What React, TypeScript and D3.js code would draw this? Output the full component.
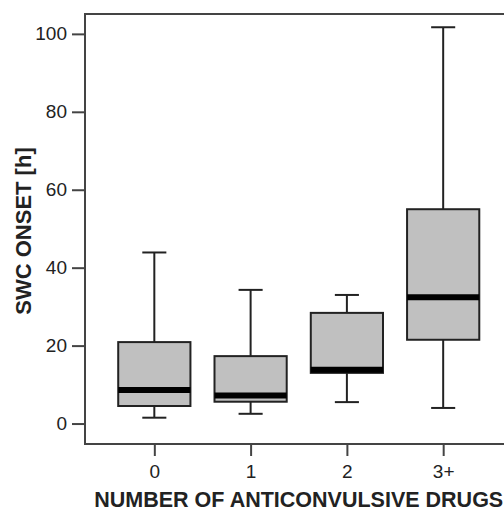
import { useEffect, useRef } from "react";
import * as d3 from "d3";

const categories = ["0", "1", "2", "3+"];
const whiskerLow = [1.5, 2.5, 5.5, 4.0];
const q1 = [4.5, 5.6, 13.0, 21.5];
const median = [8.6, 7.2, 13.8, 32.4];
const q3 = [20.9, 17.3, 28.4, 55.0];
const whiskerHigh = [43.9, 34.3, 33.0, 101.7];
const yTicks = [0, 20, 40, 60, 80, 100];

const WIDTH = 504;
const HEIGHT = 508;

const App = () => {
  const ref = useRef<SVGSVGElement>(null);

  useEffect(() => {
    if (!ref.current) return;
    const svg = d3.select(ref.current);
    svg.selectAll("*").remove();

    // plot frame runs past the right edge of the picture
    const left = 85;
    const right = 512.5;
    const top = 14;
    const bottom = 444;

    const x = d3.scalePoint().domain(categories).range([left, right]).padding(0.72);
    const y = d3.scaleLinear().domain([-5.25, 105.1]).range([bottom, top]);
    const step = x.step();
    const boxW = step * 0.75;
    const capW = step * 0.25;

    const font = "'Liberation Sans', Arial, sans-serif";
    const ink = "#222";
    const axisColor = "#444";

    // frame
    svg
      .append("path")
      .attr("fill", "none")
      .attr("stroke", axisColor)
      .attr("stroke-width", 2)
      .attr("d", `M${right + 10},${top}H${left}V${bottom}H${right + 10}`);

    // y axis
    svg
      .append("g")
      .attr("transform", `translate(${left},0)`)
      .call(d3.axisLeft(y).tickValues(yTicks).tickSize(13).tickPadding(5))
      .call((g) => g.select(".domain").remove())
      .call((g) => g.selectAll(".tick line").attr("stroke", axisColor).attr("stroke-width", 2))
      .call((g) =>
        g.selectAll(".tick text").attr("fill", ink).attr("font-size", 19).attr("font-family", font)
      );

    // x axis
    svg
      .append("g")
      .attr("transform", `translate(0,${bottom})`)
      .call(d3.axisBottom(x).tickSize(12).tickPadding(9))
      .call((g) => g.select(".domain").remove())
      .call((g) => g.selectAll(".tick line").attr("stroke", axisColor).attr("stroke-width", 2))
      .call((g) =>
        g.selectAll(".tick text").attr("fill", ink).attr("font-size", 19).attr("font-family", font)
      );

    // boxes
    const boxes = svg
      .append("g")
      .selectAll("g")
      .data(categories)
      .join("g")
      .attr("stroke", ink)
      .attr("stroke-width", 2);

    boxes
      .append("line")
      .attr("x1", (d) => x(d)!)
      .attr("x2", (d) => x(d)!)
      .attr("y1", (_, i) => y(whiskerHigh[i]))
      .attr("y2", (_, i) => y(q3[i]));
    boxes
      .append("line")
      .attr("x1", (d) => x(d)!)
      .attr("x2", (d) => x(d)!)
      .attr("y1", (_, i) => y(q1[i]))
      .attr("y2", (_, i) => y(whiskerLow[i]));
    boxes
      .append("line")
      .attr("x1", (d) => x(d)! - capW / 2)
      .attr("x2", (d) => x(d)! + capW / 2)
      .attr("y1", (_, i) => y(whiskerHigh[i]))
      .attr("y2", (_, i) => y(whiskerHigh[i]));
    boxes
      .append("line")
      .attr("x1", (d) => x(d)! - capW / 2)
      .attr("x2", (d) => x(d)! + capW / 2)
      .attr("y1", (_, i) => y(whiskerLow[i]))
      .attr("y2", (_, i) => y(whiskerLow[i]));
    boxes
      .append("rect")
      .attr("x", (d) => x(d)! - boxW / 2)
      .attr("width", boxW)
      .attr("y", (_, i) => y(q3[i]))
      .attr("height", (_, i) => y(q1[i]) - y(q3[i]))
      .attr("fill", "#c0c0c0");
    boxes
      .append("line")
      .attr("x1", (d) => x(d)! - boxW / 2)
      .attr("x2", (d) => x(d)! + boxW / 2)
      .attr("y1", (_, i) => y(median[i]))
      .attr("y2", (_, i) => y(median[i]))
      .attr("stroke", "#000")
      .attr("stroke-width", 6);

    // axis titles
    svg
      .append("text")
      .attr("x", (left + right) / 2)
      .attr("y", 507)
      .attr("text-anchor", "middle")
      .attr("font-family", font)
      .attr("font-weight", "bold")
      .attr("font-size", 21.5)
      .attr("fill", ink)
      .text("NUMBER OF ANTICONVULSIVE DRUGS");

    svg
      .append("text")
      .attr("transform", `translate(31,${(top + bottom) / 2 + 2}) rotate(-90)`)
      .attr("text-anchor", "middle")
      .attr("font-family", font)
      .attr("font-weight", "bold")
      .attr("font-size", 22)
      .attr("fill", ink)
      .text("SWC ONSET [h]");
  }, []);

  return (
    <svg
      ref={ref}
      width={WIDTH}
      height={HEIGHT}
      style={{ position: "absolute", left: 0, top: 0, background: "#fff" }}
    />
  );
};

export default App;
